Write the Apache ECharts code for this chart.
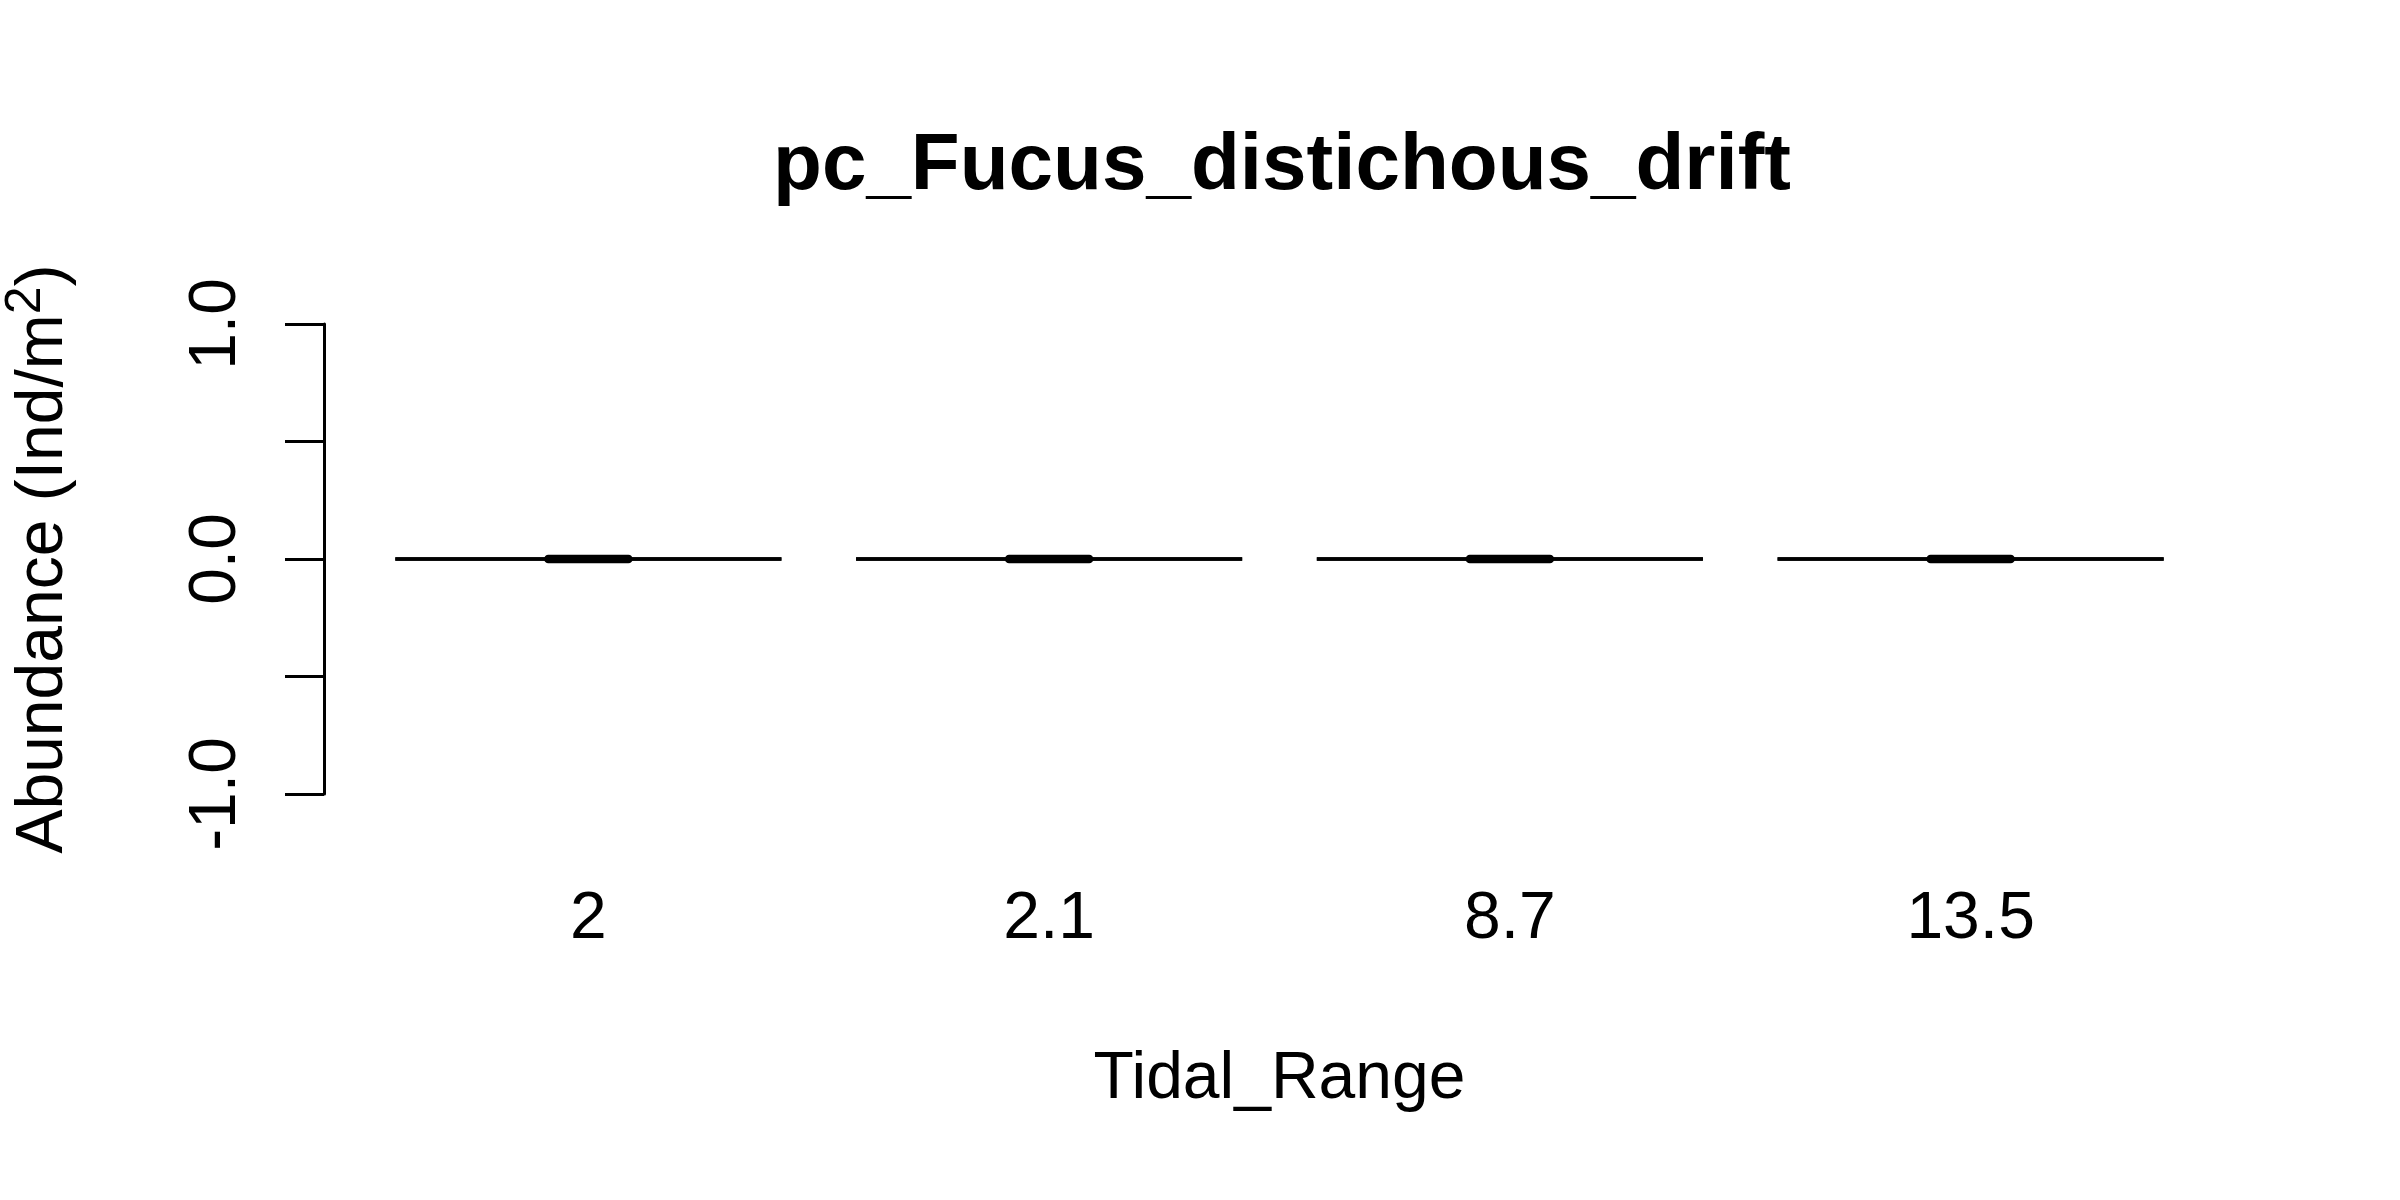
<!DOCTYPE html>
<html>
<head>
<meta charset="utf-8">
<script src="https://cdn.jsdelivr.net/npm/echarts@6/dist/echarts.min.js"></script>
<style>
html,body{margin:0;padding:0;background:#fff;}
#chart{width:2400px;height:1200px;}
</style>
</head>
<body>
<div id="chart"></div>
<script>
const categories = ['2', '2.1', '8.7', '13.5'];
const lowerWhisker = [0, 0, 0, 0];
const q1Values = [0, 0, 0, 0];
const medianValues = [0, 0, 0, 0];
const q3Values = [0, 0, 0, 0];
const upperWhisker = [0, 0, 0, 0];
const yTickValues = [-1, -0.5, 0, 0.5, 1];
const yLabeledTicks = [-1, 0, 1];

const FONT = '"Liberation Sans", Arial, sans-serif';
const chart = echarts.init(document.getElementById('chart'), null, {renderer: 'canvas'});

const boxData = categories.map((c, i) => [i, lowerWhisker[i], q1Values[i], medianValues[i], q3Values[i], upperWhisker[i]]);

function renderBox(params, api) {
  const idx = api.value(0);
  const lo = api.coord([idx, api.value(1)]);
  const p1 = api.coord([idx, api.value(2)]);
  const pm = api.coord([idx, api.value(3)]);
  const p3 = api.coord([idx, api.value(4)]);
  const hi = api.coord([idx, api.value(5)]);
  const band = api.size([1, 0])[0];
  const half = band * 0.419;
  const medHalf = band * 0.087;
  const x = p1[0];
  const st = {stroke: '#000', lineWidth: 3.5, fill: null};
  return {
    type: 'group',
    children: [
      {type: 'rect', shape: {x: x - half, y: p3[1], width: 2 * half, height: p1[1] - p3[1]}, style: st},
      {type: 'line', shape: {x1: x, y1: p3[1], x2: x, y2: hi[1]}, style: st},
      {type: 'line', shape: {x1: x, y1: p1[1], x2: x, y2: lo[1]}, style: st},
      {type: 'line', shape: {x1: x - half, y1: pm[1], x2: x + half, y2: pm[1]}, style: st},
      {type: 'line', shape: {x1: x - medHalf, y1: pm[1], x2: x + medHalf, y2: pm[1]}, style: {stroke: '#000', lineWidth: 8.5, lineCap: 'round'}}
    ]
  };
}

const option = {
  backgroundColor: '#ffffff',
  animation: false,
  title: {
    text: 'pc_Fucus_distichous_drift',
    left: 1277,
    top: 122,
    textAlign: 'center',
    textStyle: {fontFamily: FONT, fontWeight: 'bold', fontSize: 80, color: '#000'}
  },
  grid: {left: 358, right: 199, top: 324, bottom: 406, containLabel: false, outerBoundsMode: 'none'},
  xAxis: {
    type: 'category',
    data: categories,
    boundaryGap: true,
    axisLine: {show: false},
    axisTick: {show: false},
    splitLine: {show: false},
    axisLabel: {fontFamily: FONT, fontSize: 66, color: '#000', margin: 93},
    name: 'Tidal_Range',
    nameLocation: 'middle',
    nameGap: 253,
    nameTextStyle: {fontFamily: FONT, fontSize: 66, color: '#000'}
  },
  yAxis: {
    type: 'value',
    min: -1,
    max: 1,
    interval: 0.5,
    offset: 34,
    axisLine: {show: true, lineStyle: {color: '#000', width: 3}},
    axisTick: {show: true, inside: false, length: 39, lineStyle: {color: '#000', width: 3}},
    splitLine: {show: false},
    axisLabel: {
      rotate: 90,
      fontFamily: FONT,
      fontSize: 66,
      color: '#000',
      margin: 74,
      formatter: function (v) {
        return yLabeledTicks.some(t => Math.abs(t - v) < 1e-9) ? v.toFixed(1) : '';
      }
    },
    name: 'Abundance (Ind/m{sup|2})',
    nameLocation: 'middle',
    nameGap: 237,
    nameTextStyle: {
      fontFamily: FONT, fontSize: 66, color: '#000',
      rich: {sup: {fontFamily: FONT, fontSize: 50, color: '#000', verticalAlign: 'top', padding: [0, 0, 36, 0]}}
    }
  },
  series: [{
    type: 'custom',
    renderItem: renderBox,
    data: boxData,
    encode: {x: 0, y: [1, 2, 3, 4, 5]},
    silent: true
  }]
};
chart.setOption(option);
</script>
</body>
</html>
